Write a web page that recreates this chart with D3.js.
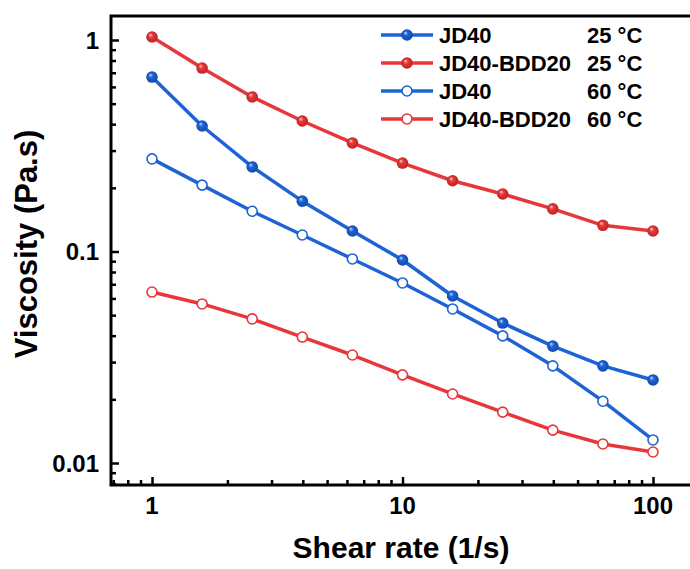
<!DOCTYPE html>
<html>
<head>
<meta charset="utf-8">
<script src="https://cdn.jsdelivr.net/npm/d3@7"></script>
<style>
  html, body { margin: 0; padding: 0; background: #fff; }
  svg { display: block; }
  text { font-family: "Liberation Sans", Arial, sans-serif; font-weight: bold; fill: #000; }
</style>
</head>
<body>
<svg id="chart" width="690" height="569"></svg>
<script>
// ---- data ----
const shearRate = [1, 1.585, 2.512, 3.981, 6.31, 10, 15.85, 25.12, 39.81, 63.1, 100];
const jd40_25 = [0.668, 0.392, 0.251, 0.173, 0.125, 0.0912, 0.0616, 0.0459, 0.0357, 0.0288, 0.0247];
const bdd20_25 = [1.033, 0.737, 0.538, 0.414, 0.326, 0.262, 0.216, 0.187, 0.159, 0.133, 0.125];
const jd40_60 = [0.274, 0.206, 0.155, 0.1197, 0.0922, 0.0710, 0.0535, 0.0399, 0.0288, 0.0196, 0.01285];
const bdd20_60 = [0.0643, 0.0565, 0.0480, 0.0394, 0.0324, 0.0261, 0.0212, 0.0174, 0.0143, 0.0123, 0.01127];
const seriesNames = ["JD40", "JD40-BDD20", "JD40", "JD40-BDD20"];
const seriesTemps = ["25 °C", "25 °C", "60 °C", "60 °C"];
const xTickLabels = ["1", "10", "100"];
const yTickLabels = ["0.01", "0.1", "1"];
const xTitle = "Shear rate (1/s)";
const yTitle = "Viscosity (Pa.s)";

const BLUE = "#1d63d6", RED = "#e8373a";
const series = [
  {values: jd40_25, color: BLUE, filled: true, grad: "gBlue"},
  {values: bdd20_25, color: RED, filled: true, grad: "gRed"},
  {values: jd40_60, color: BLUE, filled: false},
  {values: bdd20_60, color: RED, filled: false}
];

const svg = d3.select("#chart");
const L = 111, R = 692, T = 16, B = 485;

// scales calibrated to the reference positions
const x = d3.scaleLog().domain([1, 100]).range([152, 653]);
x.domain([x.invert(L), x.invert(R)]).range([L, R]);
const y = d3.scaleLog().domain([0.01, 1]).range([463, 40]);
y.domain([y.invert(B), y.invert(T)]).range([B, T]);

// gradients for filled markers
const defs = svg.append("defs");
[["gBlue", BLUE, "#0f47a8", "#c9dbfa"], ["gRed", RED, "#b81f22", "#fbd0d0"]].forEach(([id, c, dark, light]) => {
  const g = defs.append("radialGradient").attr("id", id)
    .attr("cx", "50%").attr("cy", "50%").attr("r", "55%").attr("fx", "35%").attr("fy", "30%");
  g.append("stop").attr("offset", "0%").attr("stop-color", light);
  g.append("stop").attr("offset", "35%").attr("stop-color", c);
  g.append("stop").attr("offset", "100%").attr("stop-color", dark);
});

// ticks
const isMajor = v => Math.abs(Math.log10(v) - Math.round(Math.log10(v))) < 1e-9;
const xTicks = x.ticks().filter(v => v >= x.domain()[0] && v <= x.domain()[1]);
const yTicks = y.ticks().filter(v => v >= y.domain()[0] && v <= y.domain()[1]);

const xAxis = d3.axisBottom(x).tickValues(xTicks)
  .tickSizeInner(0).tickSizeOuter(0).tickFormat("");
const gx = svg.append("g").attr("transform", `translate(0,${B})`).call(xAxis);
gx.select(".domain").remove();
gx.selectAll(".tick line")
  .attr("y2", d => isMajor(d) ? -8 : -5)
  .attr("stroke", "#000").attr("stroke-width", 2.5);
gx.selectAll(".tick text").remove();

const yAxis = d3.axisLeft(y).tickValues(yTicks)
  .tickSizeInner(0).tickSizeOuter(0).tickFormat("");
const gy = svg.append("g").attr("transform", `translate(${L},0)`).call(yAxis);
gy.select(".domain").remove();
gy.selectAll(".tick line")
  .attr("x2", d => isMajor(d) ? 8 : 5)
  .attr("stroke", "#000").attr("stroke-width", 2.5);
gy.selectAll(".tick text").remove();

// tick labels
svg.append("g").selectAll("text").data(xTickLabels).join("text")
  .attr("x", d => x(+d)).attr("y", 514)
  .attr("text-anchor", "middle").attr("font-size", 24).text(d => d);
svg.append("g").selectAll("text").data(yTickLabels).join("text")
  .attr("x", L - 12).attr("y", d => y(+d)).attr("dy", "0.36em")
  .attr("text-anchor", "end").attr("font-size", 24).text(d => d);

// frame
svg.append("rect").attr("x", L).attr("y", T).attr("width", R - L).attr("height", B - T)
  .attr("fill", "none").attr("stroke", "#000").attr("stroke-width", 3);

// axis titles
svg.append("text").attr("x", 401).attr("y", 558).attr("text-anchor", "middle")
  .attr("font-size", 30).text(xTitle);
svg.append("text").attr("transform", `translate(37,${244}) rotate(-90)`)
  .attr("text-anchor", "middle").attr("font-size", 31).text(yTitle);

// lines and markers
const line = d3.line().x((d, i) => x(shearRate[i])).y(d => y(d));
series.forEach(s => {
  svg.append("path").datum(s.values).attr("d", line)
    .attr("fill", "none").attr("stroke", s.color).attr("stroke-width", 3.5)
    .attr("stroke-linejoin", "round");
});
function marker(g, s) {
  if (s.filled) {
    g.attr("r", 5.8).attr("fill", `url(#${s.grad})`).attr("stroke", "none");
  } else {
    g.attr("r", 5).attr("fill", "#fff").attr("stroke", s.color).attr("stroke-width", 1.6);
  }
}
series.forEach(s => {
  svg.append("g").selectAll("circle").data(s.values).join("circle")
    .attr("cx", (d, i) => x(shearRate[i])).attr("cy", d => y(d))
    .call(g => marker(g, s));
});

// legend
const legRowY = [35, 63, 91, 119];
const lg = svg.append("g");
series.forEach((s, i) => {
  const yy = legRowY[i];
  lg.append("line").attr("x1", 381).attr("x2", 433).attr("y1", yy).attr("y2", yy)
    .attr("stroke", s.color).attr("stroke-width", 3.5);
  lg.append("circle").attr("cx", 407).attr("cy", yy).call(g => marker(g, s));
  lg.append("text").attr("x", 439).attr("y", yy).attr("dy", "0.36em")
    .attr("font-size", 22).text(seriesNames[i]);
  lg.append("text").attr("x", 587).attr("y", yy).attr("dy", "0.36em")
    .attr("font-size", 22).text(seriesTemps[i]);
});
</script>
</body>
</html>
